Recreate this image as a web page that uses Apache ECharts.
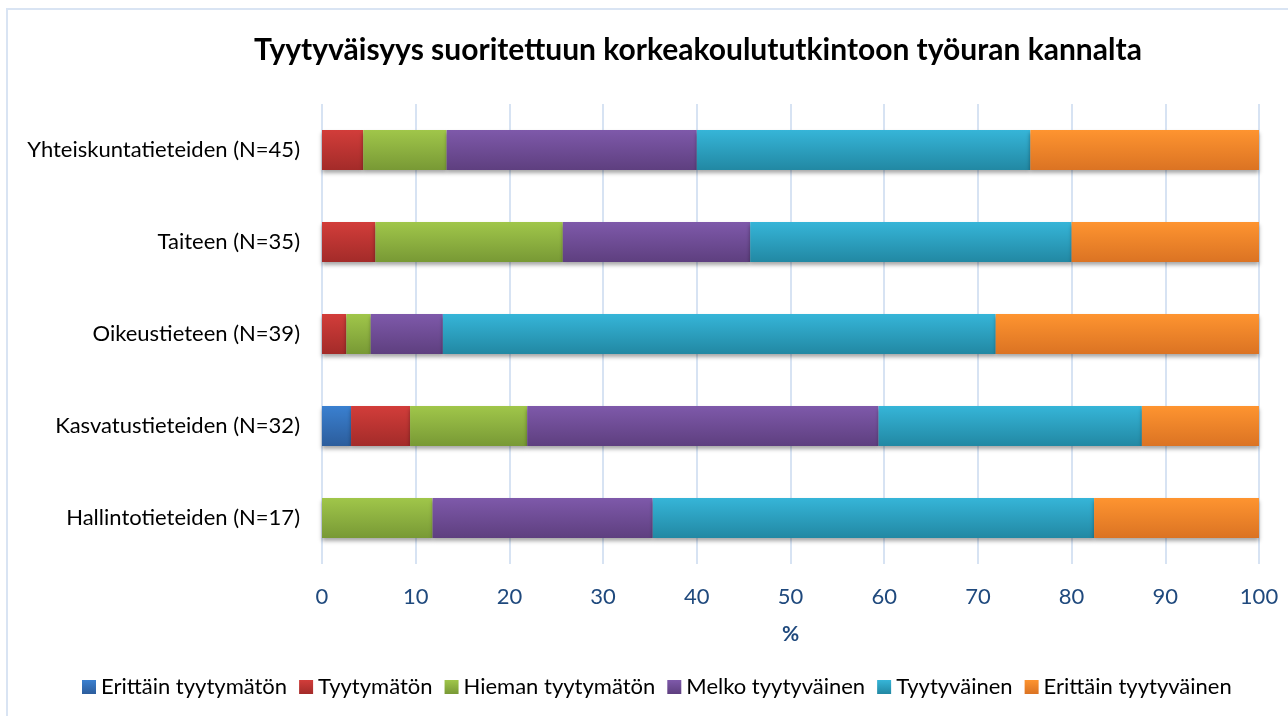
<!DOCTYPE html>
<html>
<head>
<meta charset="utf-8">
<script src="https://cdn.jsdelivr.net/npm/echarts@6/dist/echarts.min.js"></script>
<style>
html,body{margin:0;padding:0;background:#fff;}
#chart{width:1288px;height:716px;}
</style>
</head>
<body>
<div id="chart"></div>
<script>
// kategoriat ylhaalta alas
var categories = ['Yhteiskuntatieteiden (N=45)', 'Taiteen (N=35)', 'Oikeustieteen (N=39)', 'Kasvatustieteiden (N=32)', 'Hallintotieteiden (N=17)'];
var seriesNames = ['Erittäin tyytymätön', 'Tyytymätön', 'Hieman tyytymätön', 'Melko tyytyväinen', 'Tyytyväinen', 'Erittäin tyytyväinen'];
var erittainTyytymaton = [0, 0, 0, 3.1, 0];
var tyytymaton = [4.4, 5.7, 2.6, 6.3, 0];
var hiemanTyytymaton = [8.9, 20.0, 2.6, 12.5, 11.8];
var melkoTyytyvainen = [26.7, 20.0, 7.7, 37.5, 23.5];
var tyytyvainen = [35.6, 34.3, 59.0, 28.1, 47.1];
var erittainTyytyvainen = [24.4, 20.0, 28.1, 12.5, 17.6];
var xTicks = [0, 10, 20, 30, 40, 50, 60, 70, 80, 90, 100];

var values = [erittainTyytymaton, tyytymaton, hiemanTyytymaton, melkoTyytyvainen, tyytyvainen, erittainTyytyvainen];
// vari: ylä, ala (liukuvari)
var colors = [
    ['#3a80d0', '#2c5d9c'],
    ['#d23d3a', '#a32b29'],
    ['#a0c64a', '#789935'],
    ['#7e59aa', '#5e3f7f'],
    ['#36b5d8', '#2288a3'],
    ['#fe9430', '#db7323']
];

var font = 'Lato, "Open Sans", sans-serif';

var series = [];
seriesNames.forEach(function(name, i){
    series.push({
        name: name,
        type: 'bar',
        stack: 'total',
        barWidth: 40,
        data: values[i].map(function(v){ return v === 0 ? '-' : v; }),
        itemStyle: {
            color: new echarts.graphic.LinearGradient(0, 0, 0, 1, [
                {offset: 0, color: colors[i][0]},
                {offset: 1, color: colors[i][1]}
            ]),
            shadowBlur: 4,
            shadowColor: 'rgba(0,0,0,0.35)',
            shadowOffsetY: 3
        },
        emphasis: {disabled: true}
    });
});

var option = {
    animation: false,
    backgroundColor: '#fff',
    textStyle: {fontFamily: font},
    title: {
        text: 'Tyytyväisyys suoritettuun korkeakoulututkintoon työuran kannalta',
        left: 249,
        top: 30,
        textStyle: {fontFamily: font, fontSize: 30, fontWeight: 'bold', color: '#000'}
    },
    grid: {left: 322, right: 29, top: 104, bottom: 152},
    legend: {
        bottom: 13,
        left: 77,
        itemWidth: 14,
        itemHeight: 14,
        itemGap: 12,
        icon: 'rect',
        textStyle: {fontFamily: font, fontSize: 22, color: '#000', padding: [0, 0, 0, 0]},
        data: seriesNames
    },
    xAxis: {
        type: 'value',
        min: 0,
        max: 100,
        interval: 10,
        name: '%',
        nameLocation: 'middle',
        nameGap: 60,
        nameTextStyle: {fontFamily: font, fontSize: 21, fontWeight: 'bold', color: '#1f497d'},
        axisLine: {show: false},
        axisTick: {show: false},
        axisLabel: {
            fontFamily: font, fontSize: 22, color: '#1f497d', margin: 22,
            formatter: function(v){ return xTicks.indexOf(v) >= 0 ? String(v) : ''; }
        },
        splitLine: {show: true, lineStyle: {color: '#d7e3f3', width: 2}}
    },
    yAxis: {
        type: 'category',
        inverse: true,
        data: categories,
        axisLine: {show: false},
        axisTick: {show: false},
        axisLabel: {fontFamily: font, fontSize: 22, color: '#000', margin: 22}
    },
    graphic: [{
        type: 'rect',
        shape: {x: 7, y: 9, width: 1320, height: 760},
        style: {fill: 'none', stroke: '#d9e4f3', lineWidth: 2},
        silent: true
    }],
    series: series
};

var myChart = echarts.init(document.getElementById('chart'));
myChart.setOption(option);
</script>
</body>
</html>
